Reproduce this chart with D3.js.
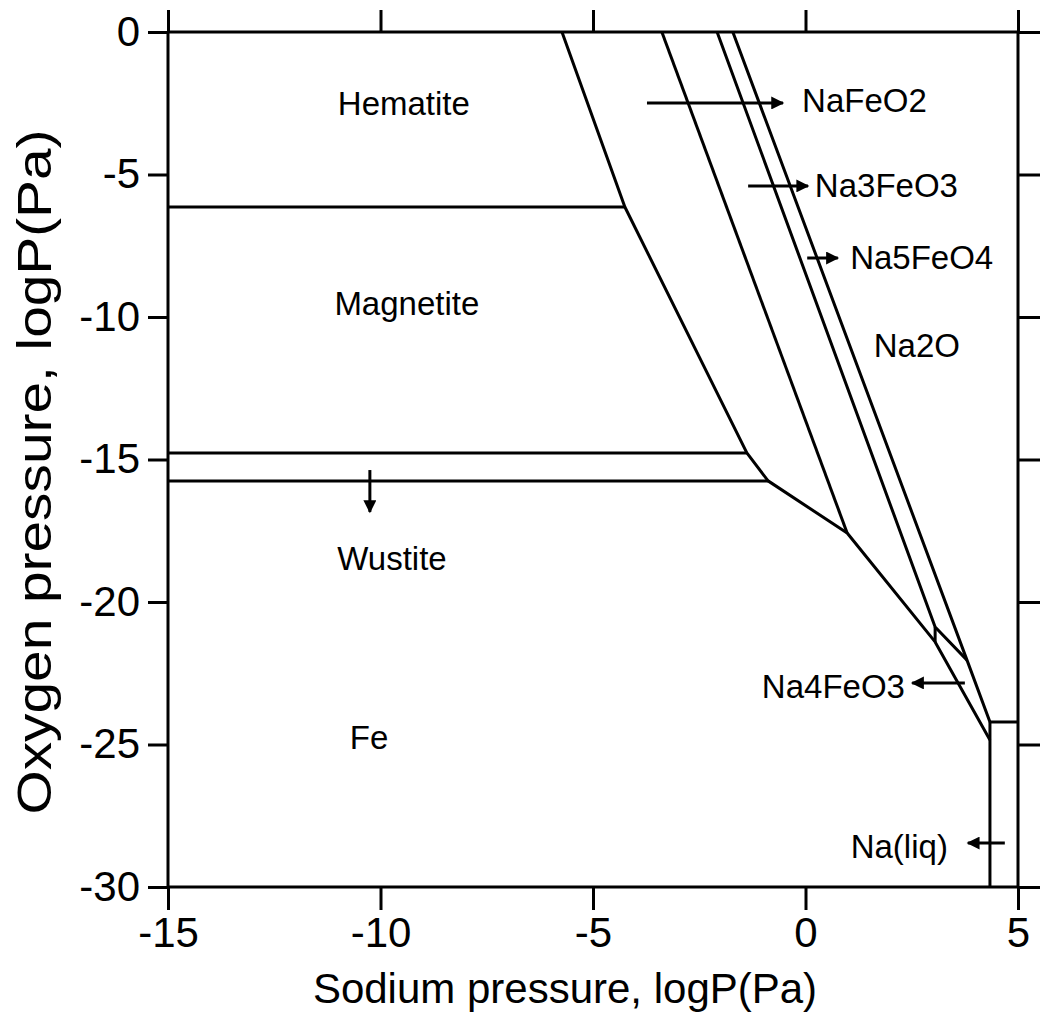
<!DOCTYPE html>
<html>
<head>
<meta charset="utf-8">
<script src="https://cdn.jsdelivr.net/npm/d3@7"></script>
<style>
  body { margin: 0; background: #fff; }
  text { font-family: "Liberation Sans", Arial, sans-serif; fill: #000; }
</style>
</head>
<body>
<div id="container"></div>
<script>
// axis ticks
const xTicks = [-15, -10, -5, 0, 5];
const yTicks = [0, -5, -10, -15, -20, -25, -30];

// phase boundaries, [logP(Na), logP(O2)]
const ironOxideEdge = [[-5.73, 0], [-4.25, -6.14], [-1.38, -14.77], [-0.88, -15.75], [0.98, -17.58], [3.05, -21.40], [4.34, -24.84]];
const naFeO2Edge = [[-3.38, 0], [0.98, -17.58]];
const na3FeO3Edge = [[-2.08, 0], [3.05, -20.88], [3.80, -22.04]];
const na5FeO4Edge = [[-1.71, 0], [3.80, -22.04], [4.34, -24.21]];
const na4FeO3Step = [[3.05, -20.88], [3.05, -21.40]];
const hematiteMagnetite = [[-15, -6.14], [-4.25, -6.14]];
const magnetiteWustite = [[-15, -14.77], [-1.38, -14.77]];
const wustiteFe = [[-15, -15.75], [-0.88, -15.75]];
const naLiqSide = [[4.34, -24.21], [4.34, -30]];
const naLiqTop = [[4.34, -24.21], [5, -24.21]];

// region labels: [text, x, y, anchor]
const labels = [
  ["Hematite", -9.45, -2.91, "middle"],
  ["Magnetite", -9.38, -9.93, "middle"],
  ["Wustite", -9.73, -18.88, "middle"],
  ["Fe", -10.27, -25.16, "middle"],
  ["Na2O", 2.62, -11.40, "middle"],
  ["NaFeO2", -0.08, -2.81, "start"],
  ["Na3FeO3", 0.22, -5.79, "start"],
  ["Na5FeO4", 1.05, -8.32, "start"],
  ["Na4FeO3", 2.34, -23.37, "end"],
  ["Na(liq)", 3.35, -28.98, "end"]
];

// pointer arrows: [x1, y1, x2, y2] (head at x2, y2)
const arrows = [
  [-3.73, -2.49, -0.53, -2.49],
  [-1.35, -5.40, 0.06, -5.40],
  [0.04, -7.93, 0.76, -7.93],
  [3.75, -22.84, 2.51, -22.84],
  [4.69, -28.46, 3.82, -28.46],
  [-10.25, -15.37, -10.25, -16.84]
];

document.addEventListener('DOMContentLoaded', function() {
  const margin = {top: 32, right: 22, bottom: 139, left: 168};
  const width = 850;
  const height = 855;

  const root = d3.select("#container")
    .append("svg")
    .attr("width", width + margin.left + margin.right)
    .attr("height", height + margin.top + margin.bottom);

  root.append("defs").append("marker")
    .attr("id", "head")
    .attr("markerUnits", "userSpaceOnUse")
    .attr("viewBox", "0 0 10 10")
    .attr("refX", 9)
    .attr("refY", 5)
    .attr("markerWidth", 15)
    .attr("markerHeight", 13)
    .attr("orient", "auto")
    .append("path")
    .attr("d", "M0,0 L10,5 L0,10 z")
    .attr("fill", "#000");

  const svg = root.append("g")
    .attr("transform", `translate(${margin.left},${margin.top})`);

  const x = d3.scaleLinear().domain([-15, 5]).range([0, width]);
  const y = d3.scaleLinear().domain([0, -30]).range([0, height]);

  // plain hyphen, like the original figure
  const fmt = d => String(d);

  // axes, ticks outward on all four sides
  const bottom = svg.append("g")
    .attr("transform", `translate(0,${height})`)
    .call(d3.axisBottom(x).tickValues(xTicks).tickSize(23).tickPadding(7).tickFormat(fmt));
  const top = svg.append("g")
    .call(d3.axisTop(x).tickValues(xTicks).tickSize(22).tickFormat(""));
  const left = svg.append("g")
    .call(d3.axisLeft(y).tickValues(yTicks).tickSize(20).tickPadding(8).tickFormat(fmt));
  const right = svg.append("g")
    .attr("transform", `translate(${width},0)`)
    .call(d3.axisRight(y).tickValues(yTicks).tickSize(22).tickFormat(""));

  [bottom, top, left, right].forEach(g => {
    g.selectAll("path, line").attr("stroke", "#000").attr("stroke-width", 3);
    g.select(".domain").attr("d", g === bottom || g === top ? `M0,0H${width}` : `M0,0V${height}`);
  });
  bottom.selectAll("text").style("font-size", "42px").style("font-family", "Liberation Sans, Arial, sans-serif");
  left.selectAll("text").style("font-size", "42px").style("font-family", "Liberation Sans, Arial, sans-serif");

  // axis titles
  root.append("text")
    .attr("x", 565)
    .attr("y", 1003)
    .attr("text-anchor", "middle")
    .style("font-size", "42px")
    .text("Sodium pressure, logP(Pa)");

  root.append("text")
    .attr("transform", "translate(51,472) rotate(-90)")
    .attr("text-anchor", "middle")
    .attr("textLength", 685)
    .attr("lengthAdjust", "spacingAndGlyphs")
    .style("font-size", "49px")
    .text("Oxygen pressure, logP(Pa)");

  // boundaries
  const line = d3.line().x(d => x(d[0])).y(d => y(d[1]));
  const edges = [ironOxideEdge, naFeO2Edge, na3FeO3Edge, na5FeO4Edge, na4FeO3Step,
    hematiteMagnetite, magnetiteWustite, wustiteFe, naLiqSide, naLiqTop];

  svg.selectAll(".edge")
    .data(edges)
    .enter()
    .append("path")
    .attr("class", "edge")
    .attr("d", line)
    .attr("fill", "none")
    .attr("stroke", "#000")
    .attr("stroke-width", 3)
    .attr("stroke-linejoin", "round");

  svg.selectAll(".arrow")
    .data(arrows)
    .enter()
    .append("line")
    .attr("class", "arrow")
    .attr("x1", d => x(d[0]))
    .attr("y1", d => y(d[1]))
    .attr("x2", d => x(d[2]))
    .attr("y2", d => y(d[3]))
    .attr("stroke", "#000")
    .attr("stroke-width", 3)
    .attr("marker-end", "url(#head)");

  svg.selectAll(".label")
    .data(labels)
    .enter()
    .append("text")
    .attr("class", "label")
    .attr("x", d => x(d[1]))
    .attr("y", d => y(d[2]))
    .attr("text-anchor", d => d[3])
    .style("font-size", "33px")
    .text(d => d[0]);
});
</script>
</body>
</html>
